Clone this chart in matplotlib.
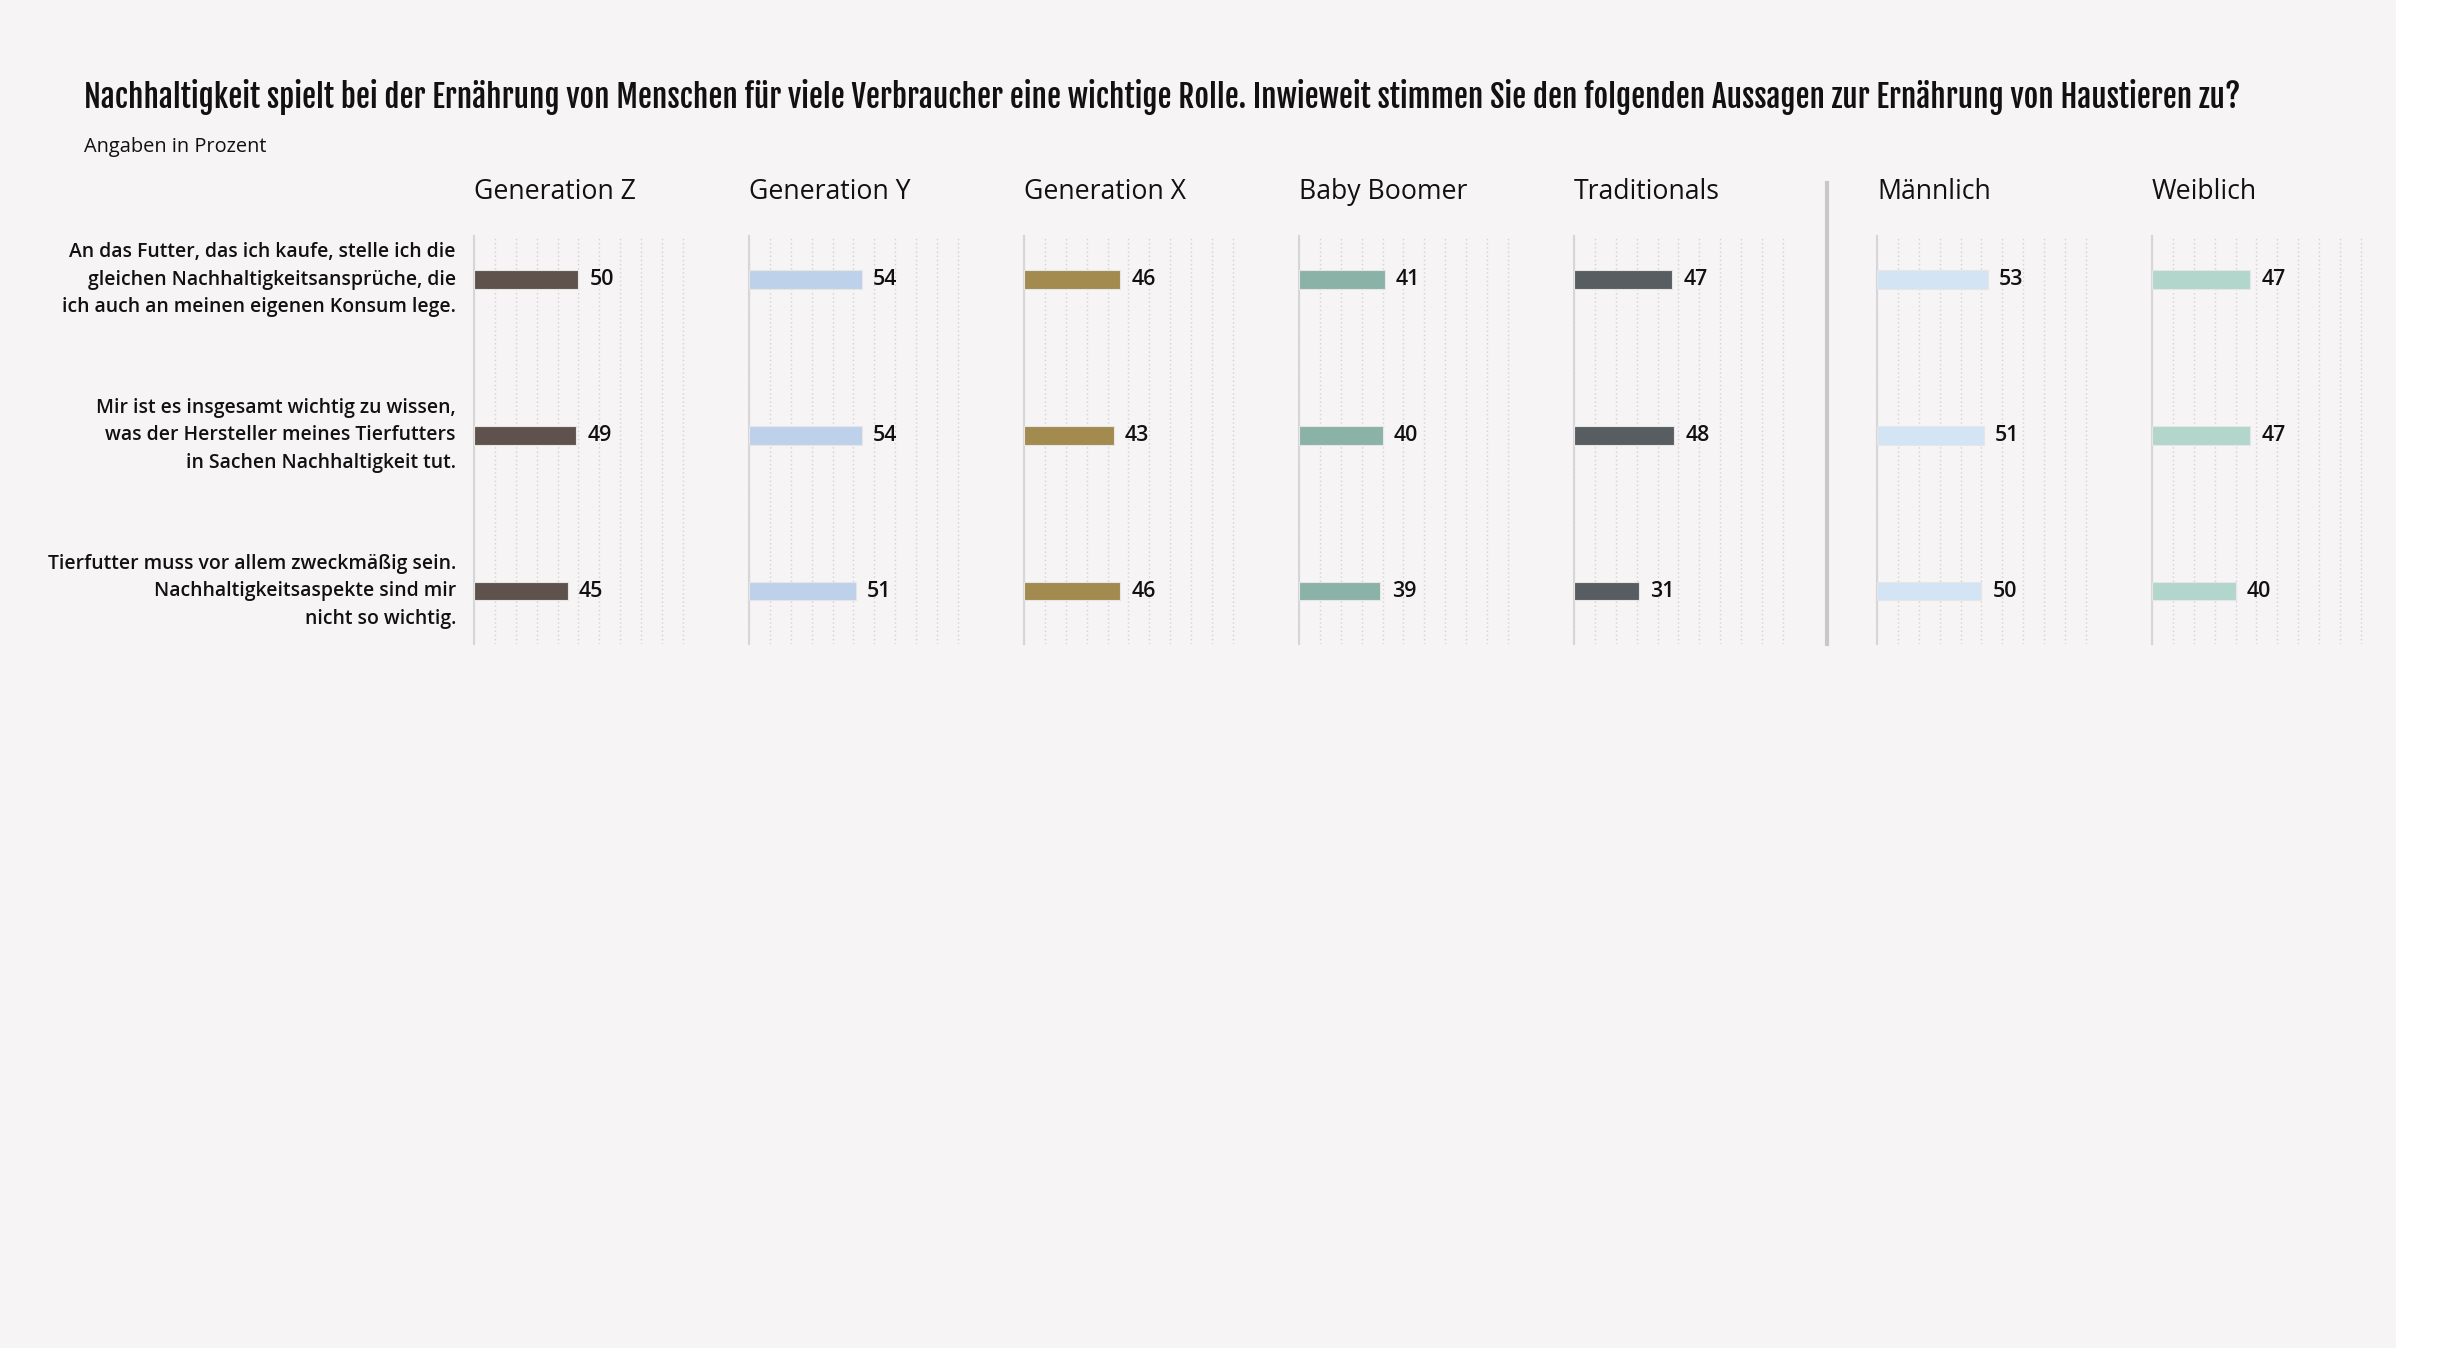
import matplotlib
matplotlib.use("Agg")
import matplotlib.pyplot as plt
from matplotlib.lines import Line2D
from matplotlib.patches import Rectangle

# ---- data ----
title = ("Nachhaltigkeit spielt bei der Ernährung von Menschen für viele Verbraucher eine wichtige Rolle. "
         "Inwieweit stimmen Sie den folgenden Aussagen zur Ernährung von Haustieren zu?")
subtitle = "Angaben in Prozent"

statements = [
    "An das Futter, das ich kaufe, stelle ich die\ngleichen Nachhaltigkeitsansprüche, die\nich auch an meinen eigenen Konsum lege.",
    "Mir ist es insgesamt wichtig zu wissen,\nwas der Hersteller meines Tierfutters\nin Sachen Nachhaltigkeit tut.",
    "Tierfutter muss vor allem zweckmäßig sein.\nNachhaltigkeitsaspekte sind mir\nnicht so wichtig.",
]

groups = ["Generation Z", "Generation Y", "Generation X", "Baby Boomer", "Traditionals", "Männlich", "Weiblich"]
gen_z = [50, 49, 45]
gen_y = [54, 54, 51]
gen_x = [46, 43, 46]
boomer = [41, 40, 39]
traditionals = [47, 48, 31]
maennlich = [53, 51, 50]
weiblich = [47, 47, 40]
values = [gen_z, gen_y, gen_x, boomer, traditionals, maennlich, weiblich]
colors = ["#5f524d", "#bdd1ea", "#a38a4f", "#8ab2a6", "#585d61", "#d3e4f4", "#b3d6cc"]

title_font = "Fjalla One"
body_font = "Open Sans"
INK = "#111111"

# ---- layout (pixels) ----
W, H = 2438, 1354
BG = "#f6f4f5"
fig = plt.figure(figsize=(W / 100, H / 100), dpi=100)
fig.patch.set_facecolor("white")
fig.add_artist(Rectangle((0, 1 - 1348 / H), 2396 / W, 1348 / H, transform=fig.transFigure,
                         facecolor=BG, edgecolor="none", zorder=-10))
r = fig.canvas.get_renderer()


def fit(txt, target):
    # scale font so the rendered width matches the reference width
    fs = txt.get_fontsize()
    w = txt.get_window_extent(r).width
    txt.set_fontsize(fs * target / w)
    return target / w


t = fig.text(84 / W, 1 - 97 / H, title, fontsize=22, family=title_font, va="center", ha="left", color=INK)
fit(t, 2152)
st = fig.text(84 / W, 1 - 147 / H, subtitle, fontsize=14, family=body_font, va="center", color=INK)
fit(st, 183)

lefts = [474, 749, 1024, 1299, 1574, 1877, 2152]
ax_w = 211
top, bottom = 236, 644
label_scale = 1.0

for i, (name, vals, col) in enumerate(zip(groups, values, colors)):
    ax = fig.add_axes([lefts[i] / W, 1 - bottom / H, ax_w / W, (bottom - top) / H])
    ax.set_facecolor("none")
    ax.barh(range(len(vals)), vals, height=0.12, color=col, edgecolor="#e6e6e6", linewidth=0.8, zorder=3)
    ax.set_xlim(0, 101)
    ax.set_ylim(2.34, -0.28)
    ax.set_xticks(range(0, 101, 10))
    ax.set_yticks([])
    ax.tick_params(length=0, labelbottom=False)
    ax.xaxis.grid(True, linestyle=(0, (1, 2)), color="#d2d2d2", linewidth=1)
    ax.set_axisbelow(True)
    for s in ["top", "right", "bottom"]:
        ax.spines[s].set_visible(False)
    ax.spines["left"].set_color("#d6d6d6")
    ax.spines["left"].set_linewidth(1.5)

    hd = fig.text(lefts[i] / W, 1 - 192 / H, name, fontsize=18, family=body_font, va="center", ha="left",
                  color=INK)
    if i == 0:
        hscale = fit(hd, 162)
        lbls = []
        for j, s in enumerate(statements):
            a = ax.annotate(s, xy=(0, j), xycoords=("axes fraction", "data"), xytext=(-13, 0),
                            textcoords="offset points", ha="right", va="center", fontsize=14,
                            fontweight="semibold", family=body_font, linespacing=1.5, color=INK)
            lbls.append(a)
        label_scale = fit(lbls[2], 410)
        for a in lbls[:2]:
            a.set_fontsize(14 * label_scale)
    else:
        hd.set_fontsize(18 * hscale)

    for j, v in enumerate(vals):
        ax.annotate(str(v), xy=(v, j), xytext=(8, 0), textcoords="offset points",
                    va="center", ha="left", fontsize=15.5 * label_scale, fontweight="semibold",
                    family=body_font, color=INK)

# divider between generations and gender
fig.add_artist(Line2D([1827 / W, 1827 / W], [1 - 183 / H, 1 - 644 / H], transform=fig.transFigure,
                      color="#c8c8c8", linewidth=3))

fig.savefig("out.png", dpi=100, facecolor=fig.get_facecolor())
